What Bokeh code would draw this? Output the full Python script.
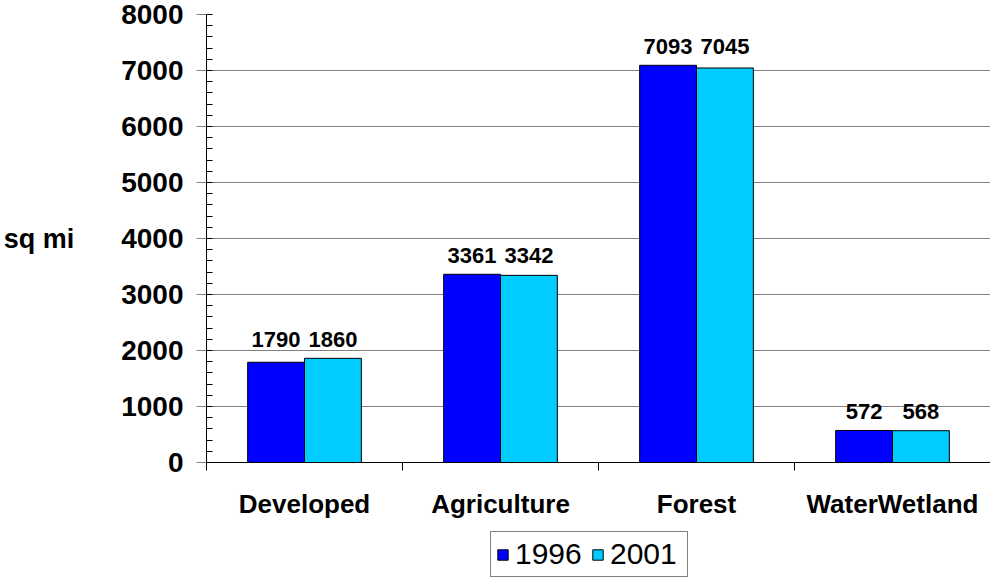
from bokeh.plotting import figure
from bokeh.layouts import column
from bokeh.models import (ColumnDataSource, FixedTicker, Legend, LegendItem, Range1d)
from bokeh.core.properties import value
from bokeh.embed import file_html
from bokeh.resources import INLINE

categories = ["Developed", "Agriculture", "Forest", "WaterWetland"]
years = ["1996", "2001"]
values_1996 = [1790, 3361, 7093, 572]
values_2001 = [1860, 3342, 7045, 568]
y_ticks = [0, 1000, 2000, 3000, 4000, 5000, 6000, 7000, 8000]
colors = ["#0000FF", "#00CCFF"]

FONT = "Liberation Sans"
bar_w = 0.29

fig = figure(width=990, height=522, output_backend="svg", toolbar_location=None,
             x_range=Range1d(0, len(categories)), y_range=Range1d(0, 8000),
             min_border_left=205, min_border_right=0, min_border_top=14, min_border_bottom=60)
fig.outline_line_color = None
fig.background_fill_color = "white"
fig.border_fill_color = "white"

centers = [i + 0.5 for i in range(len(categories))]
group_max = [max(a, b) for a, b in zip(values_1996, values_2001)]
sources = []
for k, (vals, col) in enumerate(zip([values_1996, values_2001], colors)):
    xs = [c + (k - 0.5) * bar_w for c in centers]
    src = ColumnDataSource(dict(x=xs, top=vals))
    sources.append(src)
    fig.vbar(x="x", top="top", width=bar_w, source=src, fill_color=col,
             line_color="black", line_width=1)
    lsrc = ColumnDataSource(dict(x=xs, y=group_max, t=[str(v) for v in vals]))
    fig.text(x="x", y="y", text="t", source=lsrc, text_align="center",
             text_baseline="bottom", y_offset=-11, text_font=value(FONT),
             text_font_size="22px", text_font_style="bold", text_color="black")

# x axis
xa = fig.xaxis[0]
xa.ticker = FixedTicker(ticks=centers, minor_ticks=list(range(len(categories) + 1)))
xa.major_label_overrides = {c: n for c, n in zip(centers, categories)}
xa.major_tick_line_color = None
xa.major_tick_out = 0
xa.major_tick_in = 0
xa.minor_tick_out = 8
xa.minor_tick_in = 0
xa.minor_tick_line_color = "black"
xa.axis_line_color = "black"
xa.major_label_standoff = 18
xa.major_label_text_font = FONT
xa.major_label_text_font_size = "26px"
xa.major_label_text_font_style = "bold"
xa.major_label_text_color = "black"

# y axis
ya = fig.yaxis[0]
ya.ticker = FixedTicker(ticks=y_ticks, minor_ticks=list(range(0, 8001, 200)))
ya.major_tick_out = 10
ya.major_tick_in = 0
ya.major_tick_line_color = "#808080"
ya.minor_tick_in = 6
ya.minor_tick_out = 0
ya.minor_tick_line_color = "black"
ya.axis_line_color = "black"
ya.major_label_standoff = 13
ya.major_label_text_font = FONT
ya.major_label_text_font_size = "28px"
ya.major_label_text_font_style = "bold"
ya.major_label_text_color = "black"
ya.axis_label = "sq mi"
ya.axis_label_orientation = "horizontal"
ya.axis_label_text_font = FONT
ya.axis_label_text_font_size = "27px"
ya.axis_label_text_font_style = "bold"
ya.axis_label_text_color = "black"
ya.axis_label_standoff = 44

fig.xgrid.grid_line_color = None
fig.ygrid.grid_line_color = "#808080"
fig.ygrid.grid_line_width = 1

# legend strip (its bars use the same data, kept far out of view)
lf = figure(width=990, height=55, output_backend="svg", toolbar_location=None,
            x_axis_location=None, y_axis_location=None,
            x_range=Range1d(-100, -99), y_range=Range1d(-20000, -10000),
            min_border_left=0, min_border_right=0, min_border_top=0, min_border_bottom=0)
lf.outline_line_color = None
lf.xgrid.grid_line_color = None
lf.ygrid.grid_line_color = None
leg_renderers = []
for src, col in zip(sources, colors):
    lr = lf.vbar(x="x", top="top", width=bar_w, source=src, fill_color=col,
                 line_color="black", line_width=1)
    leg_renderers.append(lr)
legend = Legend(items=[LegendItem(label=y, renderers=[r]) for y, r in zip(years, leg_renderers)],
                orientation="horizontal", location=(284, 0),
                label_text_font=FONT, label_text_font_size="30px",
                label_text_color="black", glyph_width=13, glyph_height=13,
                spacing=4, label_standoff=6, label_width=72, padding=5, margin=0,
                border_line_color="black", border_line_width=1,
                background_fill_color="white", background_fill_alpha=1)
lf.add_layout(legend, "center")

p = column(fig, lf, spacing=0)
open("out.html", "w").write(file_html(p, INLINE))
